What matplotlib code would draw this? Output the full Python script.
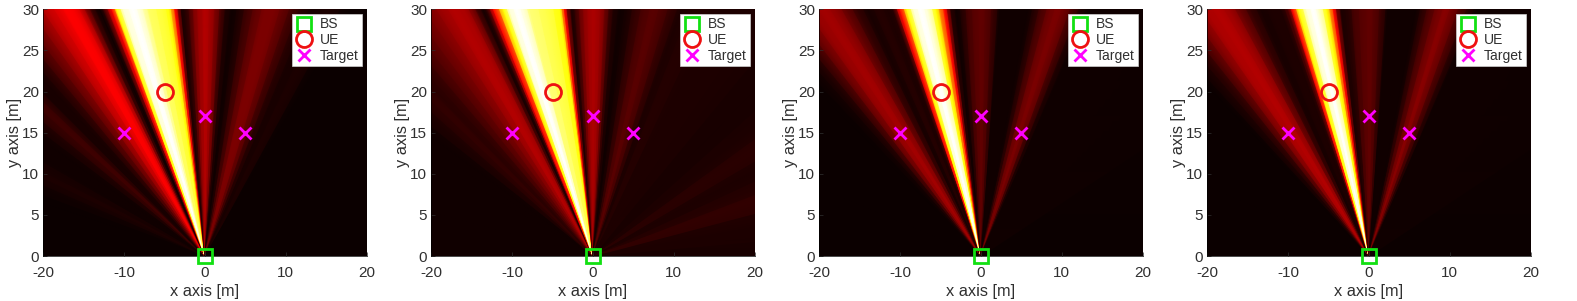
# ================================================================
# 0. Section: IMPORTS
# ================================================================
import numpy as np
from matplotlib import pyplot as plt

plt.rcParams["font.family"] = ["Liberation Sans", "DejaVu Sans"]
plt.rcParams["axes.unicode_minus"] = False

# ================================================================
# 1. Section: Data (beam gain vs. angle from boresight, degrees)
# ================================================================
angles_a = [-90, -72, -68, -66, -64, -62, -59, -55, -52, -50, -48, -46, -45, -43, -41, -39, -37, -35, -33, -31, -30,
            -29, -28, -27, -26, -25, -24, -23.4, -22.5, -21.5, -21, -20, -18.6, -16.5, -15, -14, -13, -10, -8.5, -7.8, -7, -6.2,
            -5.5, -4.5, -3.5, -2.5, -1.5, 0, 1.5, 2.5, 4, 5, 6.5, 8, 10, 12, 14, 16, 18, 20, 22, 24, 27, 31, 90]
gains_a = [0, 0, 0.01, 0.02, 0.03, 0.02, 0.01, 0.01, 0.03, 0.06, 0.08, 0.05, 0.02, 0.02, 0.05, 0.1, 0.15, 0.21, 0.28, 0.33, 0.36,
           0.36, 0.34, 0.28, 0.17, 0.07, 0.02, 0.01, 0.1, 0.3, 0.375, 0.75, 0.96, 1, 0.96, 0.9, 0.84, 0.8, 0.75, 0.6, 0.375, 0.15,
           0.03, 0.05, 0.11, 0.18, 0.22, 0.25, 0.22, 0.17, 0.08, 0.03, 0.01, 0.03, 0.08, 0.13, 0.17, 0.17, 0.13, 0.08, 0.04, 0.02, 0.03, 0, 0]

angles_b = [-90, -60, -54, -50, -48, -46, -44, -42, -40, -38, -36, -34, -32, -30, -28, -26.5, -25.5, -24.4, -23.6, -22.8, -22.3,
            -20.3, -19, -17.5, -16, -14.6, -11, -7.8, -7.2, -6.7, -6, -5, -4, -3, -2, -1, 0, 1, 2, 3, 4, 5, 6.5, 8, 10, 12, 14,
            16, 18, 20, 23, 28, 35, 45, 52, 57, 63, 68, 71, 80, 90]
gains_b = [0.01, 0.01, 0.01, 0.03, 0.05, 0.06, 0.05, 0.06, 0.09, 0.12, 0.15, 0.18, 0.22, 0.25, 0.24, 0.17, 0.08, 0.02, 0.07, 0.25, 0.375,
           0.75, 0.96, 1, 0.96, 0.86, 0.82, 0.75, 0.55, 0.375, 0.15, 0.03, 0.08, 0.15, 0.2, 0.23, 0.24, 0.23, 0.2, 0.14, 0.07, 0.03, 0.01, 0.02, 0.06, 0.1, 0.12,
           0.1, 0.06, 0.03, 0.04, 0.03, 0.03, 0.02, 0.03, 0.05, 0.03, 0.04, 0.06, 0.03, 0.02]

angles_c = [-90, -45, -43, -41, -39, -37, -35, -33, -31, -29, -27, -25, -23, -21, -20, -18.5, -17, -15.5, -14, -12.5, -10.5, -9.5, -8.5, -7.8,
            -7, -5.7, -4.5, -3, -1.5, 0, 1.5, 3, 4.5, 11, 12.5, 14, 16, 17.5, 19, 21, 22.5, 24, 90]
gains_c = [0, 0, 0.01, 0.03, 0.08, 0.15, 0.21, 0.23, 0.2, 0.13, 0.06, 0.02, 0.04, 0.03, 0.04, 0.375, 0.75, 0.96, 1, 0.96, 0.75, 0.55, 0.375, 0.18,
           0.04, 0.01, 0.04, 0.09, 0.12, 0.13, 0.11, 0.07, 0.01, 0.01, 0.04, 0.09, 0.15, 0.17, 0.15, 0.08, 0.03, 0.01, 0]

angles_d = [-90, -44, -42, -40, -38, -36, -34, -32, -30, -28, -26, -24, -22, -20, -18.5, -17.5, -16.2, -14.4, -13, -11.9, -9.9, -9, -8.3, -7.5,
            -6.5, -5, -3.5, -1.5, 0, 1.5, 3, 4.5, 11, 12.5, 14, 16, 17.5, 19, 21, 22.5, 24, 90]
gains_d = [0, 0, 0.02, 0.05, 0.11, 0.18, 0.24, 0.25, 0.22, 0.14, 0.06, 0.02, 0.03, 0.03, 0.1, 0.375, 0.75, 0.96, 1, 0.96, 0.75, 0.55, 0.375, 0.15,
           0.03, 0.04, 0.09, 0.12, 0.13, 0.11, 0.07, 0.01, 0.01, 0.05, 0.1, 0.16, 0.19, 0.16, 0.09, 0.04, 0.01, 0]

panel_angles = [angles_a, angles_b, angles_c, angles_d]
panel_gains = [gains_a, gains_b, gains_c, gains_d]

bs_x = [0]
bs_y = [0]
ue_x = [-5]
ue_y = [20]
target_x = [-10, 0, 5]
target_y = [15, 17, 15]

x_ticks = [-20, -10, 0, 10, 20]
y_ticks = [0, 5, 10, 15, 20, 25, 30]

# Pixel layout of the reference
WIDTH = 1577
HEIGHT = 301
panel_left = [43.3, 431.3, 819.3, 1207.3]
PANEL_WIDTH = 323.4
PANEL_TOP = 9.3
PANEL_BOTTOM = 256.0
TEXT_COLOR = "#303030"


# ================================================================
# 2. Section: Functions
# ================================================================
def draw_beam(ax, angles, gains):
    theta = np.radians(angles)
    radius = np.array([[0.0], [90.0]])

    # every angle is a ray leaving the BS, the mesh fans out from the origin
    x = radius * np.sin(theta)
    y = radius * np.cos(theta)
    c = np.vstack([gains, gains])

    ax.pcolormesh(x, y, c, shading="gouraud", cmap="hot", vmin=0, vmax=1, antialiased=False)


def draw_panel(ax, angles, gains):
    ax.set_facecolor("#0a0000")
    draw_beam(ax, angles, gains)

    ax.plot(bs_x, bs_y, "s", ms=9.5, mew=2.0, mfc="none", mec="#12e012", ls="none", clip_on=False, zorder=5, label="BS")
    ax.plot(ue_x, ue_y, "o", ms=11.5, mew=2.0, mfc="none", mec="#ee1111", ls="none", zorder=5, label="UE")
    ax.plot(target_x, target_y, "x", ms=8.5, mew=2.0, mec="#ff00ff", ls="none", zorder=5, label="Target")

    ax.set_xlim(-20, 20)
    ax.set_ylim(0, 30)
    ax.set_xticks(x_ticks)
    ax.set_yticks(y_ticks)
    ax.tick_params(axis="both", direction="in", length=3, width=0.5, color=TEXT_COLOR, labelcolor=TEXT_COLOR, labelsize=11)
    ax.tick_params(axis="x", pad=7)
    ax.tick_params(axis="y", pad=3)
    ax.set_xlabel("x axis [m]", fontsize=11.8, color=TEXT_COLOR, labelpad=3)
    ax.set_ylabel("y axis [m]", fontsize=11.8, color=TEXT_COLOR, labelpad=0)

    ax.spines["top"].set_visible(False)
    ax.spines["right"].set_visible(False)
    ax.spines["left"].set_linewidth(0.5)
    ax.spines["bottom"].set_linewidth(0.5)

    legend = ax.legend(
        loc="upper left",
        bbox_to_anchor=(0.768, 0.981),
        borderaxespad=0,
        fontsize=10,
        fancybox=False,
        framealpha=1,
        edgecolor="#d0d0d0",
        labelspacing=0.12,
        handlelength=1.3,
        handletextpad=0.5,
        borderpad=0.25,
    )
    legend.get_frame().set_linewidth(0.5)
    for text in legend.get_texts():
        text.set_color(TEXT_COLOR)


# ================================================================
# 3. Section: Figure
# ================================================================
fig = plt.figure(figsize=(WIDTH / 100, HEIGHT / 100), dpi=100)

for left, angles, gains in zip(panel_left, panel_angles, panel_gains):
    ax = fig.add_axes(
        (left / WIDTH, 1 - PANEL_BOTTOM / HEIGHT, PANEL_WIDTH / WIDTH, (PANEL_BOTTOM - PANEL_TOP) / HEIGHT)
    )
    draw_panel(ax, angles, gains)

fig.savefig("out.png", dpi=100)
